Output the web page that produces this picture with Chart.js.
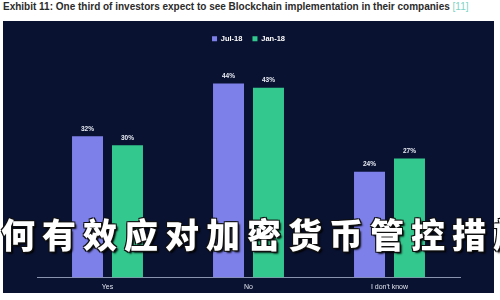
<!DOCTYPE html>
<html>
<head>
<meta charset="utf-8">
<script src="https://cdn.jsdelivr.net/npm/chart.js@4/dist/chart.umd.min.js"></script>
<style>
  html, body { margin: 0; padding: 0; width: 500px; height: 300px; overflow: hidden; background: #ffffff; }
  #title {
    position: absolute; left: 3px; top: 1px; white-space: nowrap;
    font: bold 10px "Liberation Sans", Arial, sans-serif; color: #2b2b2b;
  }
  #title .ref { color: #7fd3c4; font-weight: normal; }
  #panel {
    position: absolute; left: 3px; top: 21px; width: 491px; height: 272px;
    background: #0a1232;
  }
  #chart { position: absolute; left: 0; top: 0; }
  #overlay {
    position: absolute; left: 1px; top: 209px; white-space: nowrap;
    font: 900 34px "Noto Sans CJK SC", sans-serif; letter-spacing: 7px;
    color: #ffffff;
    text-shadow: 1px 1px 0 #111, -1px -1px 0 #111, 1px -1px 0 #111, -1px 1px 0 #111, 2px 2px 2px #000;
  }
</style>
</head>
<body>
<div id="title">Exhibit 11: One third of investors expect to see Blockchain implementation in their companies <span class="ref">[11]</span></div>
<div id="panel"></div>
<canvas id="chart" width="500" height="300"></canvas>
<div id="overlay">何有效应对加密货币管控措施</div>
<script>
// Survey answers and the share of investors for each survey wave (%)
const categories = ["Yes", "No", "I don't know"];
const seriesNames = ["Jul-18", "Jan-18"];
const jul18 = [32, 44, 24];
const jan18 = [30, 43, 27];
const seriesColors = ["#7e80ea", "#33c98e"];

// Writes "NN%" just above each bar
const valueLabels = {
  id: "valueLabels",
  afterDatasetsDraw(chart) {
    const ctx = chart.ctx;
    ctx.save();
    ctx.fillStyle = "#e8ecf4";
    ctx.font = "bold 6.5px 'Liberation Sans', Arial, sans-serif";
    ctx.textAlign = "center";
    ctx.textBaseline = "bottom";
    chart.data.datasets.forEach((ds, i) => {
      const meta = chart.getDatasetMeta(i);
      meta.data.forEach((bar, j) => {
        ctx.fillText(ds.data[j] + "%", bar.x, bar.y - 4);
      });
    });
    ctx.restore();
  }
};

new Chart(document.getElementById("chart"), {
  type: "bar",
  data: {
    labels: categories,
    datasets: [
      { label: seriesNames[0], data: jul18, backgroundColor: seriesColors[0] },
      { label: seriesNames[1], data: jan18, backgroundColor: seriesColors[1] }
    ]
  },
  options: {
    responsive: false,
    animation: false,
    devicePixelRatio: 1,
    categoryPercentage: 0.567,
    barPercentage: 0.775,
    layout: { padding: { left: 37, right: 40, top: 25, bottom: 4 } },
    plugins: {
      legend: {
        position: "top",
        labels: {
          color: "#ffffff",
          font: { size: 7.5, weight: "bold", family: "'Liberation Sans', Arial, sans-serif" },
          boxWidth: 5,
          boxHeight: 5,
          padding: 10
        }
      },
      tooltip: { enabled: false }
    },
    scales: {
      x: {
        grid: { display: false, drawTicks: false },
        border: { display: true, color: "#8a93ad", width: 1 },
        ticks: {
          color: "#dfe3ec",
          padding: 5,
          font: { size: 7, family: "'Liberation Sans', Arial, sans-serif" }
        }
      },
      y: {
        display: false,
        min: 0,
        max: 51
      }
    }
  },
  plugins: [valueLabels]
});
</script>
</body>
</html>
